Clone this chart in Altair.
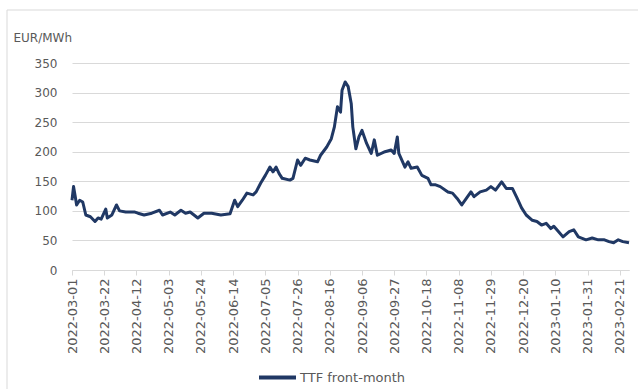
import altair as alt
import pandas as pd

# TTF front-month, EUR/MWh
dates = ["2022-03-01","2022-03-02","2022-03-03","2022-03-04","2022-03-06","2022-03-08","2022-03-10","2022-03-13","2022-03-16","2022-03-18","2022-03-20","2022-03-23","2022-03-24","2022-03-27","2022-03-30",
         "2022-04-01","2022-04-05","2022-04-11","2022-04-13","2022-04-17","2022-04-22","2022-04-27","2022-04-29",
         "2022-05-04","2022-05-07","2022-05-11","2022-05-14","2022-05-17","2022-05-22","2022-05-26","2022-05-31",
         "2022-06-06","2022-06-12","2022-06-15","2022-06-17","2022-06-20","2022-06-23","2022-06-27","2022-06-29",
         "2022-07-02","2022-07-05","2022-07-08","2022-07-10","2022-07-12","2022-07-14","2022-07-16","2022-07-21","2022-07-23","2022-07-26","2022-07-28","2022-07-31",
         "2022-08-03","2022-08-08","2022-08-10","2022-08-14","2022-08-17","2022-08-19","2022-08-21","2022-08-23","2022-08-24","2022-08-26","2022-08-28","2022-08-30","2022-08-31",
         "2022-09-02","2022-09-04","2022-09-06","2022-09-09","2022-09-12","2022-09-14","2022-09-16","2022-09-21","2022-09-25","2022-09-27","2022-09-29","2022-09-30",
         "2022-10-04","2022-10-06","2022-10-08","2022-10-12","2022-10-15","2022-10-19","2022-10-21","2022-10-24","2022-10-27",
         "2022-11-01","2022-11-04","2022-11-07","2022-11-10","2022-11-13","2022-11-16","2022-11-18","2022-11-22","2022-11-26","2022-11-29",
         "2022-12-02","2022-12-06","2022-12-09","2022-12-13","2022-12-16","2022-12-19","2022-12-22","2022-12-26","2022-12-29",
         "2023-01-01","2023-01-04","2023-01-07","2023-01-09","2023-01-12","2023-01-15","2023-01-19","2023-01-22","2023-01-25","2023-01-30",
         "2023-02-03","2023-02-07","2023-02-11","2023-02-14","2023-02-17","2023-02-20","2023-02-23","2023-02-27"]

values = [118,141,126,110,118,115,93,90,82,88,86,103,88,93,110,
          100,98,98,96,93,96,101,93,
          98,93,101,96,98,88,96,96,
          93,95,118,107,118,130,127,132,
          147,160,174,166,174,163,155,152,155,186,177,189,
          186,183,194,208,222,242,276,267,304,318,310,281,242,
          205,225,236,214,197,220,194,200,203,197,225,197,
          174,183,172,174,160,155,144,144,141,
          132,130,121,110,121,132,124,132,135,141,
          135,149,138,138,122,105,93,84,82,
          76,79,70,74,65,56,65,68,56,51,
          54,51,51,48,46,51,48,46]

series_name = "TTF front-month"

tick_dates = ["2022-03-01","2022-03-22","2022-04-12","2022-05-03","2022-05-24","2022-06-14",
              "2022-07-05","2022-07-26","2022-08-16","2022-09-06","2022-09-27","2022-10-18",
              "2022-11-08","2022-11-29","2022-12-20","2023-01-10","2023-01-31","2023-02-21"]
x_domain = ["2022-03-01", "2023-02-27"]
y_ticks = [0, 50, 100, 150, 200, 250, 300, 350]

assert len(dates) == len(values)


def to_dt(s):
    y, m, d = (int(p) for p in s.split("-"))
    return alt.DateTime(year=y, month=m, date=d, utc=True)


df = pd.DataFrame({"date": dates, "value": values, "series": series_name})

FONT = "DejaVu Sans"
GREY = "#595959"
GRID = "#d9d9d9"
W, H = 557, 207

border = alt.Chart(alt.Data(values=[{}])).mark_rect(
    filled=False, stroke=GRID, strokeWidth=1
).encode(
    x=alt.value(-65), x2=alt.value(W + 80),
    y=alt.value(-53), y2=alt.value(H + 160),
)

line = alt.Chart(df).mark_line(strokeWidth=3, strokeJoin="round").encode(
    x=alt.X(
        "date:T",
        scale=alt.Scale(type="utc", domain=[to_dt(s) for s in x_domain]),
        axis=alt.Axis(
            values=[to_dt(s) for s in tick_dates],
            labelExpr="utcFormat(datum.value, '%Y-%m-%d')",
            labelAngle=-90,
            labelFont=FONT,
            labelFontSize=13,
            labelColor=GREY,
            labelPadding=3,
            labelOverlap=False,
            labelFlush=False,
            grid=False,
            domainColor=GRID,
            tickColor=GRID,
            tickSize=5,
            title=None,
        ),
    ),
    y=alt.Y(
        "value:Q",
        scale=alt.Scale(domain=[0, 350], nice=False),
        axis=alt.Axis(
            values=y_ticks,
            labelFont=FONT,
            labelFontSize=12,
            labelColor=GREY,
            labelPadding=15,
            domain=False,
            ticks=False,
            gridColor=GRID,
            gridWidth=1,
            title="EUR/MWh",
            titleAngle=0,
            titleAlign="left",
            titleBaseline="alphabetic",
            titleX=-59,
            titleY=-22,
            titleFont=FONT,
            titleFontSize=12,
            titleFontWeight="normal",
            titleColor=GREY,
        ),
    ),
    color=alt.Color(
        "series:N",
        scale=alt.Scale(range=["#203864"]),
        title=None,
        legend=alt.Legend(
            orient="none",
            legendX=185,
            legendY=294,
            symbolType="stroke",
            symbolSize=1369,
            symbolStrokeWidth=4,
            labelFont=FONT,
            labelFontSize=13,
            labelColor=GREY,
            labelOffset=2,
        ),
    ),
)

chart = alt.layer(border, line).properties(
    width=W,
    height=H,
    padding={"left": 72, "top": 63, "right": 9, "bottom": 119},
    autosize=alt.AutoSizeParams(type="none"),
    background="white",
).configure_view(stroke=None)

chart.save("out.html", embed_options={"renderer": "svg", "actions": False})
